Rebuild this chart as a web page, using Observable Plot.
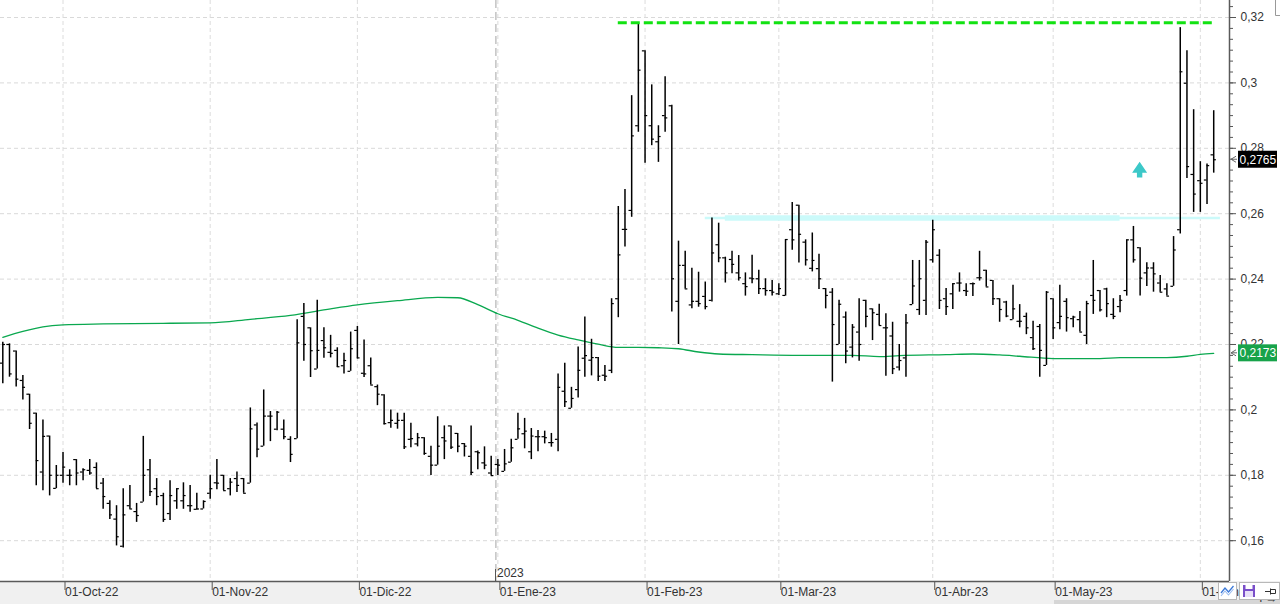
<!DOCTYPE html>
<html><head><meta charset="utf-8">
<script src="https://cdn.jsdelivr.net/npm/d3@7"></script>
<script src="https://cdn.jsdelivr.net/npm/@observablehq/plot@0.6"></script>
<style>
html,body{margin:0;padding:0;background:#fff;}
#chart{width:1280px;height:604px;overflow:hidden;}
</style></head><body><div id="chart"></div>
<script>
// ---- data (trading-day index 0 = first bar) ----
const opens=[.2143,.2200,.2180,.2090,.2048,.1990,.1810,.1920,.1760,.1800,
 .1800,.1848,.1810,.1815,.1824,.1776,.1714,.1666,.1583,.1707,
 .1689,.1718,.1817,.1759,.1738,.1683,.1722,.1722,.1707,.1696,
 .1697,.1745,.1777,.1800,.1759,.1790,.1790,.1776,.1954,.1889,
 .1981,.1941,.1941,.1910,.1912,.2286,.2251,.2125,.2212,.2176,
 .2182,.2135,.2118,.2243,.2112,.2135,.2071,.2046,.1961,.1959,
 .1968,.1910,.1896,.1915,.1858,.1831,.1915,.1951,.1928,.1897,
 .1858,.1872,.1838,.1807,.1833,.1812,.1840,.1910,.1927,.1872,
 .1918,.1918,.1900,.1910,.2057,.2005,.2062,.2158,.2152,.2160,
 .2106,.2121,.2340,.2552,.2610,.2869,.3098,.2869,.2820,.2900,
 .2930,.2332,.2442,.2321,.2332,.2347,.2335,.2505,.2465,.2460,
 .2419,.2386,.2403,.2401,.2371,.2365,.2355,.2350,.2551,.2626,
 .2513,.2433,.2432,.2371,.2360,.2200,.2284,.2192,.2238,.2335,
 .2309,.2292,.2251,.2226,.2131,.2159,.2322,.2307,.2335,.2459,
 .2473,.2340,.2355,.2388,.2365,.2386,.2404,.2427,.2396,.2340,
 .2330,.2276,.2271,.2286,.2221,.2255,.2136,.2340,.2267,.2332,
 .2279,.2276,.2228,.2350,.2365,.2370,.2292,.2316,.2365,.2520,
 .2496,.2419,.2434,.2388,.2370,.2378,.2551,.2999,.2720,.2701,
 .2703,.2780];
const highs=[.2207,.2202,.2180,.2105,.2048,.1990,.1969,.1920,.1830,.1870,
 .1817,.1848,.1820,.1848,.1838,.1790,.1722,.1707,.1759,.1769,
 .1714,.1919,.1848,.1790,.1745,.1783,.1759,.1777,.1769,.1745,
 .1722,.1800,.1848,.1800,.1790,.1810,.1790,.2006,.1960,.2061,
 .1995,.1995,.1969,.1918,.2276,.2325,.2251,.2335,.2251,.2228,
 .2190,.2173,.2238,.2255,.2214,.2159,.2076,.2046,.2000,.1990,
 .1990,.1959,.1928,.1915,.1889,.1979,.1951,.1951,.1928,.1897,
 .1951,.1874,.1887,.1858,.1848,.1879,.1910,.1990,.1974,.1943,
 .1937,.1935,.1928,.2110,.2143,.2069,.2192,.2284,.2216,.2160,
 .2136,.2340,.2622,.2674,.2961,.3180,.3098,.2994,.2869,.3019,
 .2932,.2516,.2485,.2433,.2421,.2391,.2587,.2571,.2467,.2485,
 .2472,.2419,.2473,.2427,.2401,.2396,.2386,.2521,.2634,.2626,
 .2520,.2541,.2476,.2371,.2371,.2335,.2299,.2261,.2340,.2335,
 .2309,.2323,.2294,.2268,.2200,.2292,.2457,.2457,.2518,.2580,
 .2490,.2371,.2386,.2419,.2386,.2388,.2485,.2427,.2396,.2340,
 .2332,.2381,.2322,.2296,.2271,.2261,.2362,.2340,.2381,.2340,
 .2286,.2301,.2332,.2457,.2365,.2372,.2340,.2350,.2520,.2561,
 .2496,.2450,.2450,.2411,.2386,.2530,.3169,.3098,.2918,.2759,
 .2752,.2915];
const lows=[.2080,.2100,.2070,.2030,.1940,.1768,.1753,.1737,.1759,.1776,
 .1768,.1768,.1783,.1800,.1759,.1696,.1665,.1584,.1578,.1696,
 .1656,.1718,.1735,.1707,.1656,.1662,.1696,.1696,.1687,.1694,
 .1697,.1727,.1756,.1753,.1737,.1747,.1745,.1776,.1854,.1889,
 .1903,.1936,.1909,.1839,.1912,.2149,.2099,.2125,.2158,.2159,
 .2130,.2110,.2118,.2156,.2099,.2076,.2013,.1954,.1944,.1941,
 .1879,.1884,.1887,.1861,.1799,.1831,.1848,.1879,.1869,.1856,
 .1799,.1817,.1817,.1799,.1799,.1812,.1840,.1910,.1881,.1848,
 .1872,.1896,.1886,.1872,.2007,.2005,.2036,.2100,.2104,.2087,
 .2087,.2111,.2282,.2498,.2589,.2849,.2754,.2808,.2757,.2849,
 .2299,.2200,.2370,.2309,.2314,.2306,.2330,.2450,.2388,.2416,
 .2394,.2348,.2386,.2353,.2348,.2348,.2350,.2348,.2488,.2449,
 .2440,.2422,.2368,.2309,.2085,.2200,.2141,.2159,.2149,.2251,
 .2212,.2258,.2103,.2108,.2119,.2100,.2322,.2289,.2289,.2449,
 .2307,.2289,.2307,.2360,.2347,.2347,.2394,.2376,.2319,.2268,
 .2282,.2276,.2251,.2230,.2182,.2100,.2136,.2215,.2245,.2238,
 .2251,.2238,.2200,.2292,.2299,.2282,.2276,.2297,.2348,.2449,
 .2348,.2377,.2360,.2360,.2348,.2378,.2538,.2708,.2604,.2604,
 .2628,.2724];
const closes=[.2200,.2110,.2094,.2069,.1959,.1845,.1919,.1800,.1800,.1825,
 .1800,.1807,.1817,.1807,.1759,.1735,.1679,.1612,.1679,.1697,
 .1677,.1800,.1750,.1735,.1665,.1738,.1759,.1738,.1707,.1697,
 .1720,.1759,.1776,.1753,.1779,.1769,.1745,.1942,.1880,.1981,
 .1981,.1993,.1918,.1864,.2205,.2200,.2181,.2182,.2190,.2173,
 .2132,.2151,.2187,.2159,.2110,.2076,.2048,.1958,.1968,.1968,
 .1887,.1912,.1915,.1867,.1831,.1889,.1905,.1886,.1889,.1889,
 .1809,.1869,.1831,.1799,.1831,.1835,.1884,.1942,.1935,.1920,
 .1918,.1915,.1900,.2069,.2025,.2035,.2121,.2166,.2160,.2103,
 .2103,.2325,.2474,.2552,.2838,.3039,.2900,.2828,.2836,.2893,
 .2401,.2442,.2370,.2332,.2325,.2316,.2480,.2465,.2419,.2445,
 .2404,.2377,.2401,.2371,.2365,.2360,.2371,.2521,.2520,.2537,
 .2459,.2457,.2401,.2350,.2261,.2323,.2180,.2253,.2200,.2286,
 .2297,.2258,.2251,.2126,.2151,.2266,.2379,.2401,.2513,.2551,
 .2335,.2316,.2386,.2388,.2363,.2386,.2404,.2376,.2340,.2307,
 .2287,.2309,.2271,.2251,.2187,.2182,.2360,.2251,.2286,.2282,
 .2284,.2238,.2325,.2335,.2306,.2325,.2286,.2335,.2520,.2459,
 .2403,.2434,.2416,.2360,.2348,.2489,.3034,.2744,.2660,.2693,
 .2747,.2765];

// moving average, read at sampled bars
const maIdx=[0,3,6,9,15,25,31,37,43,49,53,59,65,68,71,74,77,80,83,86,89,92,95,98,101,104,107,112,119,127,131,134,141,145,149,152,157,164,167,174,177,179,181];
const maVal=[.2222,.2240,.2254,.2260,.2263,.2265,.2266,.2277,.2289,.2309,.2321,.2334,.2344,.2343,.2322,.2294,.2274,.2250,.2229,.2214,.2201,.2191,.2191,.2190,.2187,.2177,.2171,.2169,.2167,.2167,.2163,.2166,.2169,.2171,.2168,.2164,.2157,.2157,.2160,.2160,.2164,.2170,.2173];

// x-axis ticks (bar index of first session of each month)
const monthTickIdx=[9,31,53,74,96,116,139,157,179];
const monthLabels=["01-Oct-22","01-Nov-22","01-Dic-22","01-Ene-23","01-Feb-23","01-Mar-23","01-Abr-23","01-May-23","01-Jun-23"];
const yearIdx=74, yearLabel="2023";

// y-axis ticks
const yTicks=[0.16,0.18,0.2,0.22,0.24,0.26,0.28,0.3,0.32];
const minorTicks=d3.range(48,98).map(i=>i/300);

// drawn levels
const resistanceLevel=.3184, resistanceStart=92, resistanceEnd=181;
const supportLevel=.2587, supportStart=[105,108], supportEnd=[182,167];
const arrowIdx=170, arrowTip=.2757, arrowTail=.2709;
const lastPrice=closes[closes.length-1], lastMA=maVal[maVal.length-1];

const bars=d3.range(closes.length).map(i=>({i,o:opens[i],h:highs[i],l:lows[i],c:closes[i]}));
const ma=maIdx.map((i,j)=>({i,v:maVal[j]}));
const tickLen=0.4;
const fmt=v=>String(v).replace(".",",");

function background(index, scales, values, dims){
  const {width:W,height:H,marginBottom:mb}=dims;
  const g=d3.create("svg:g");
  g.append("rect").attr("x",0).attr("y",H-mb).attr("width",W).attr("height",mb).attr("fill","#f0f0f0");
  g.append("rect").attr("x",1054).attr("y",H-4).attr("width",W-1054).attr("height",4).attr("fill","#d6d6d6");
  return g.node();
}

function overlay(index, scales, values, dims){
  const {width:W,height:H,marginRight:mr,marginBottom:mb}=dims;
  const R=W-mr, B=H-mb;
  const g=d3.create("svg:g").attr("text-anchor","start");
  g.append("line").attr("x1",0).attr("x2",R).attr("y1",B+0.5).attr("y2",B+0.5).attr("stroke","#5a5a5a").attr("stroke-width",1.5);
  g.append("line").attr("x1",R+0.5).attr("x2",R+0.5).attr("y1",0).attr("y2",B).attr("stroke","#5a5a5a").attr("stroke-width",1.5);
  // year marker
  const yx=Math.round(scales.x(yearIdx))-1.5;
  g.append("line").attr("x1",yx).attr("x2",yx).attr("y1",B-12).attr("y2",B).attr("stroke","#555");
  g.append("text").attr("x",yx+1.5).attr("y",B-8).attr("dominant-baseline","central").attr("text-anchor","start").attr("fill","#333").attr("font-size",12).text(yearLabel);
  // price boxes
  [[lastPrice,"#000"],[lastMA,"#17a34a"]].forEach(([v,bg])=>{
    const y=scales.y(v);
    g.append("path").attr("d",`M${R+7},${y-3}L${R+2},${y}L${R+7},${y+3}M${R+2},${y}H${R+8}`).attr("fill","none").attr("stroke","#666");
    g.append("rect").attr("x",R+9).attr("y",y-8.5).attr("width",39).attr("height",17).attr("fill",bg);
    g.append("text").attr("x",R+10.5).attr("y",y+0.5).attr("dominant-baseline","central").attr("text-anchor","start").attr("fill","#fff").attr("font-size",12).text(fmt(v));
  });
  // cyan up arrow
  const ax=scales.x(arrowIdx), yt=scales.y(arrowTip), yb=scales.y(arrowTail);
  const hh=(yb-yt)*0.69;
  g.append("path").attr("d",`M${ax},${yt}L${ax+7.5},${yt+hh}L${ax+2.7},${yt+hh}L${ax+2.7},${yb}L${ax-2.7},${yb}L${ax-2.7},${yt+hh}L${ax-7.5},${yt+hh}Z`).attr("fill","#3cc8c8");
  // top-right bracket
  g.append("path").attr("d",`M${W-4.5},0V15.5H${W}`).attr("fill","none").attr("stroke","#999");
  // bottom-right buttons
  g.append("rect").attr("x",1218.5).attr("y",B+1.5).attr("width",18).attr("height",17).attr("fill","#fff").attr("stroke","#b8b8b8");
  g.append("path").attr("d",`M1221,${B+12}L1225,${B+7}L1228.5,${B+11}L1233.5,${B+5}`).attr("fill","none").attr("stroke","#3a78d8").attr("stroke-width",1.3);
  g.append("path").attr("d",`M1221,${B+15}L1225,${B+10}L1228.5,${B+14}L1233.5,${B+8}`).attr("fill","none").attr("stroke","#9bbcf0").attr("stroke-width",1.1);
  g.append("rect").attr("x",1239.5).attr("y",B+1.5).attr("width",40).attr("height",17).attr("fill","#fff").attr("stroke","#b8b8b8");
  g.append("rect").attr("x",1243).attr("y",B+4).attr("width",12).attr("height",12).attr("fill","#7a4fc9");
  g.append("rect").attr("x",1245.5).attr("y",B+4).attr("width",7).attr("height",4).attr("fill","#fff");
  g.append("rect").attr("x",1245).attr("y",B+10).attr("width",8).attr("height",6).attr("fill","#e8e0f8");
  g.append("path").attr("d",`M1265,${B+10.5}H1270M1270.5,${B+7.5}V${B+13.5}M1270.5,${B+8.5}H1275.5V${B+12.5}H1270.5`).attr("fill","none").attr("stroke","#333");
  return g.node();
}

const plot=Plot.plot({
  width:1280, height:604,
  marginLeft:0, marginRight:51, marginTop:0, marginBottom:23,
  style:{fontFamily:"'Liberation Sans', Arial, sans-serif", fontSize:"12px", background:"#fff", color:"#333", overflow:"visible"},
  x:{domain:[-0.344,183.36], axis:null},
  y:{domain:[0.14752,0.3252], axis:null},
  marks:[
    background,
    Plot.ruleY(yTicks,{stroke:"#d9d9d9", strokeDasharray:"4,3"}),
    Plot.ruleX(monthTickIdx,{stroke:"#dcdcdc", strokeDasharray:"4,3"}),
    Plot.ruleX([yearIdx],{stroke:"#c6c6c6", strokeWidth:1.6, strokeDasharray:"8,4", dx:-2}),
    Plot.ruleY([supportLevel],{x1:supportStart[0], x2:supportEnd[0], stroke:"#cbfafa", strokeWidth:2.4}),
    Plot.ruleY([supportLevel],{x1:supportStart[1], x2:supportEnd[1], stroke:"#cbfafa", strokeWidth:5.5}),
    Plot.line(ma,{x:"i", y:"v", stroke:"#0aa84f", strokeWidth:1.3, curve:"monotone-x"}),
    Plot.ruleX(bars,{x:"i", y1:"l", y2:"h", stroke:"#000", strokeWidth:1.5}),
    Plot.ruleY(bars,{x1:d=>d.i-tickLen, x2:d=>d.i, y:"o", stroke:"#000", strokeWidth:1.2}),
    Plot.ruleY(bars,{x1:d=>d.i, x2:d=>d.i+tickLen, y:"c", stroke:"#000", strokeWidth:1.2}),
    Plot.ruleY([resistanceLevel],{x1:resistanceStart, x2:resistanceEnd, stroke:"#12e212", strokeWidth:3, strokeDasharray:"9,4"}),
    Plot.axisY({anchor:"right", ticks:minorTicks, tickSize:3, tickFormat:()=>"", stroke:"#555"}),
    Plot.axisY({anchor:"right", ticks:yTicks, tickSize:6, tickPadding:5, tickFormat:fmt, stroke:"#555", fill:"#333", fontSize:12}),
    Plot.axisX({anchor:"bottom", ticks:monthTickIdx, tickSize:9, tickPadding:-3, textAnchor:"start", dx:2,
      tickFormat:d=>monthLabels[monthTickIdx.indexOf(d)], stroke:"#555", fill:"#333", fontSize:12}),
    overlay
  ]
});
document.getElementById("chart").appendChild(plot);
</script>
</body></html>
